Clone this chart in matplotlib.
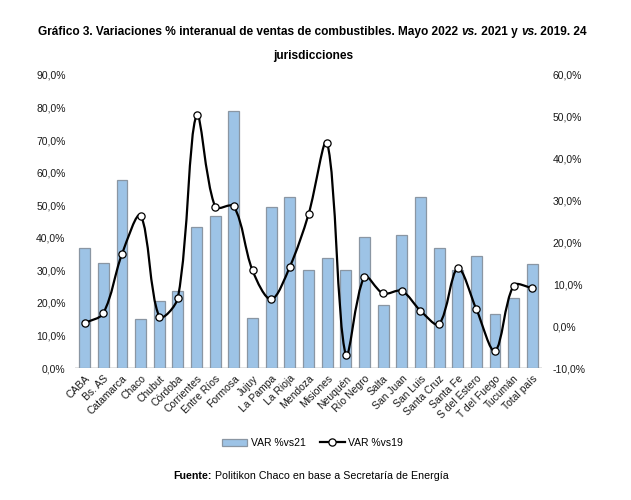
import matplotlib
matplotlib.use("Agg")
import matplotlib.pyplot as plt
from matplotlib.path import Path
from matplotlib.patches import PathPatch, Patch
from matplotlib.lines import Line2D
from matplotlib.ticker import FuncFormatter, MultipleLocator
import numpy as np

plt.rcParams['font.family'] = ['Liberation Sans', 'DejaVu Sans']

categories = ["CABA", "Bs. AS", "Catamarca", "Chaco", "Chubut", "Córdoba", "Corrientes",
              "Entre Ríos", "Formosa", "Jujuy", "La Pampa", "La Rioja", "Mendoza", "Misiones",
              "Neuquén", "Río Negro", "Salta", "San Juan", "San Luis", "Santa Cruz", "Santa Fe",
              "S del Estero", "T del Fuego", "Tucumán", "Total país"]
var_vs21 = [0.368, 0.323, 0.577, 0.150, 0.205, 0.236, 0.433, 0.468, 0.790, 0.154,
            0.495, 0.526, 0.301, 0.337, 0.302, 0.403, 0.194, 0.410, 0.526, 0.368,
            0.300, 0.343, 0.166, 0.214, 0.320]
var_vs19 = [0.007, 0.031, 0.172, 0.264, 0.023, 0.068, 0.504, 0.285, 0.286, 0.133,
            0.064, 0.142, 0.267, 0.438, -0.069, 0.118, 0.078, 0.084, 0.037, 0.005,
            0.138, 0.040, -0.059, 0.097, 0.091]

W, H = 631, 500
fig = plt.figure(figsize=(W/100, H/100), dpi=100)
ax = fig.add_axes([75.3/W, 1-368/H, (541.7-75.3)/W, (368-75)/H])
ax2 = ax.twinx()

n = len(categories)
x = np.arange(n)
ax.bar(x, var_vs21, width=0.58, color='#9DC3E6', edgecolor='#8a96a3', linewidth=0.9, zorder=2)
ax.set_xlim(-0.5, n-0.5)
ax.set_ylim(0, 0.9)
ax2.set_ylim(-0.1, 0.6)
ax.yaxis.set_major_locator(MultipleLocator(0.1))
ax2.yaxis.set_major_locator(MultipleLocator(0.1))
fmt = FuncFormatter(lambda v, p: (f"{v*100:.1f}%").replace('.', ','))
ax.yaxis.set_major_formatter(fmt)
ax2.yaxis.set_major_formatter(fmt)

# smoothed line like Excel: Bezier control points scaled by segment lengths (screen space)
tr = ax2.transData
P = tr.transform(np.column_stack([x, var_vs19]).astype(float))
verts = [P[0]]
codes = [Path.MOVETO]
def ctrl(i, forward):
    p1 = P[i]
    p0 = P[i-1] if i > 0 else P[i]
    p2 = P[i+1] if i+1 < n else P[i]
    d01 = np.hypot(*(p1 - p0))
    d12 = np.hypot(*(p2 - p1))
    if d01 + d12 == 0:
        return p1
    if forward:
        return p1 + (p2 - p0) * d12 / (3.0 * (d01 + d12))
    return p1 - (p2 - p0) * d01 / (3.0 * (d01 + d12))
for i in range(n-1):
    verts += [ctrl(i, True), ctrl(i+1, False), P[i+1]]
    codes += [Path.CURVE4]*3
verts = tr.inverted().transform(np.array(verts))
ax2.add_patch(PathPatch(Path(verts, codes), fill=False, edgecolor='black', lw=1.6, zorder=3,
                        capstyle='round', joinstyle='round'))
ax2.plot(x, var_vs19, linestyle='none', marker='o', markersize=5.2, markerfacecolor='white',
         markeredgecolor='black', markeredgewidth=0.9, zorder=4)

for a in (ax, ax2):
    for s in a.spines.values():
        s.set_visible(False)
    a.tick_params(length=0, labelsize=7.5, labelcolor='#1a1a1a')
ax.tick_params(axis='y', pad=7)
ax2.tick_params(axis='y', pad=8)
ax.axhline(0, color='#d9d9d9', lw=1.8, zorder=1)
ax.set_xticks(x)
ax.set_xticklabels(categories, rotation=45, ha='right', rotation_mode='anchor')
ax.tick_params(axis='x', pad=4)

r = fig.canvas.get_renderer()

def rich_line(pieces, xc, y, size, family, target_w=None):
    objs = []
    for txt, weight, style in pieces:
        t = fig.text(0, y, txt, fontsize=size, fontweight=weight, fontstyle=style,
                     family=family, ha='left', va='center')
        objs.append(t)
    def widths():
        return [t.get_window_extent(renderer=r).width for t in objs]
    ws = widths()
    if target_w is not None:
        s = size * target_w / sum(ws)
        for t in objs:
            t.set_fontsize(s)
        ws = widths()
    total = sum(ws)
    cur = xc*W - total/2
    for t, w in zip(objs, ws):
        t.set_x(cur/W)
        cur += w
    return objs[0].get_fontsize()

tf = ['Liberation Sans Narrow', 'Liberation Sans']
ts = rich_line([("Gráfico 3. Variaciones % interanual de ventas de combustibles. Mayo 2022 ", 'bold', 'normal'),
                ("vs.", 'bold', 'italic'), (" 2021 y ", 'bold', 'normal'),
                ("vs.", 'bold', 'italic'), (" 2019. 24", 'bold', 'normal')],
               312.5/W, 1-32/H, 9.0, tf, target_w=551)
rich_line([("jurisdicciones", 'bold', 'normal')], 313/W, 1-56/H, ts, tf)

handles = [Patch(facecolor='#9DC3E6', edgecolor='#8a96a3', linewidth=0.9),
           Line2D([], [], color='black', lw=1.6, marker='o', markersize=5.2,
                  markerfacecolor='white', markeredgecolor='black', markeredgewidth=0.9)]
fig.legend(handles, ["VAR %vs21", "VAR %vs19"], loc='center', bbox_to_anchor=(312.5/W, 1-443/H),
           ncol=2, frameon=False, fontsize=7.5, handlelength=2.4, handletextpad=0.3,
           columnspacing=1.35, borderpad=0, borderaxespad=0)

rich_line([("Fuente:", 'bold', 'normal'), (" Politikon Chaco en base a Secretaría de Energía", 'normal', 'normal')],
          311/W, 1-476/H, 7.7, ['Liberation Sans'])

fig.savefig("out.png", dpi=100, facecolor='white')
